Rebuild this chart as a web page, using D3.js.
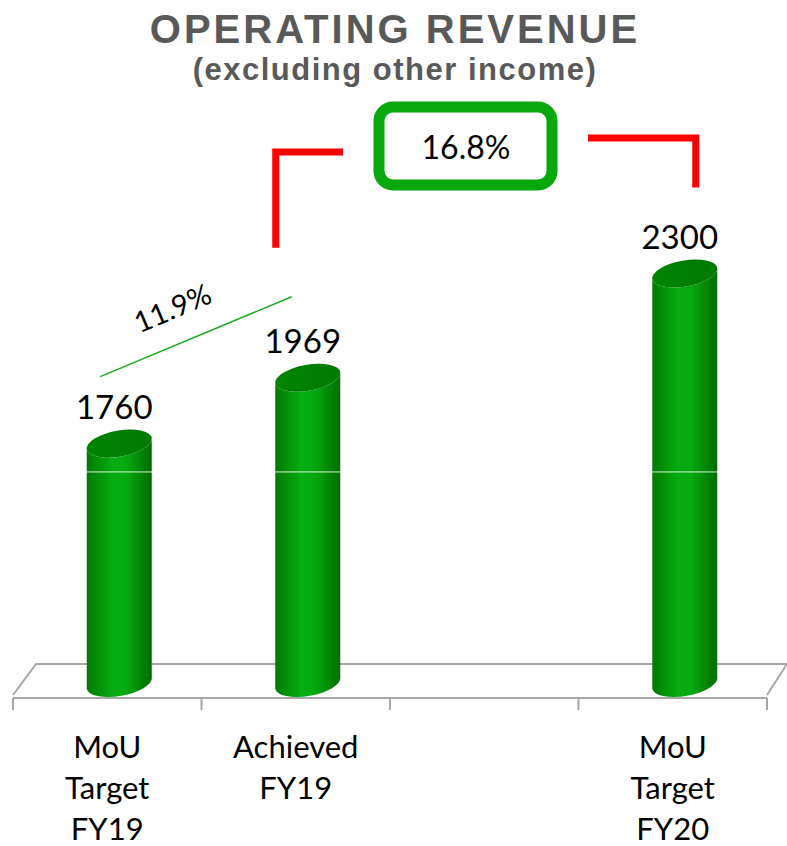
<!DOCTYPE html>
<html lang="en">
<head>
<meta charset="UTF-8">
<title>Operating Revenue</title>
<script src="https://d3js.org/d3.v7.min.js"></script>
<style>
  body { margin: 0; background: #fff; }
  .title { font-family: "Liberation Sans", Arial, sans-serif; font-weight: bold; fill: #595959; }
  .lbl { font-family: Lato, "Noto Sans", sans-serif; fill: #000; }
</style>
</head>
<body>
<svg width="787" height="846"></svg>
<script>
// chart data
const categories = ["MoU Target FY19", "Achieved FY19", "", "MoU Target FY20"];
const catLines = [["MoU", "Target", "FY19"], ["Achieved", "FY19"], [], ["MoU", "Target", "FY20"]];
const values = [1760, 1969, null, 2300];
const growthLabels = ["11.9%", "16.8%"];
const gridValues = [1670];

const svg = d3.select("svg");

// scales
const x = d3.scaleBand().domain(categories.map((c, i) => i)).range([13, 767]).padding(0);
const y = d3.scaleLinear().domain([1000, 2400]).range([683, 242]);

const depthX = 23, depthY = 34;
const floorY = 698;
const barShift = 12, rx = 33, ry = 13, tilt = -10;

// gradients
const defs = svg.append("defs");
const g1 = defs.append("linearGradient").attr("id", "body");
[["0%", "#007a00"], ["40%", "#05ad12"], ["60%", "#05aa10"], ["100%", "#006c00"]]
  .forEach(s => g1.append("stop").attr("offset", s[0]).attr("stop-color", s[1]));
const g2 = defs.append("linearGradient").attr("id", "top");
[["0%", "#008400"], ["100%", "#007a00"]]
  .forEach(s => g2.append("stop").attr("offset", s[0]).attr("stop-color", s[1]));

// floor
const x0 = x.range()[0], x1 = x.range()[1];
svg.append("path")
  .attr("d", `M${x0},${floorY - 3} L${x0 + depthX},${floorY - depthY} L${x1 + 20},${floorY - depthY} L${x1},${floorY - 3}`)
  .attr("fill", "#fff").attr("stroke", "#a6a6a6").attr("stroke-width", 2);
svg.append("line").attr("x1", x0).attr("x2", x1).attr("y1", floorY).attr("y2", floorY)
  .attr("stroke", "#a6a6a6").attr("stroke-width", 2);
const ticks = categories.map((c, i) => x(i)).concat([x1]);
svg.selectAll(".tk").data(ticks).join("line")
  .attr("x1", d => d).attr("x2", d => d).attr("y1", floorY).attr("y2", floorY + 12)
  .attr("stroke", "#a6a6a6").attr("stroke-width", 2);

// cylinders
const th = tilt * Math.PI / 180;
const ex = rx * Math.cos(th), ey = rx * Math.sin(th);
const bars = values.map((v, i) => ({ v, i })).filter(d => d.v != null);
const bg = svg.selectAll(".bar").data(bars).join("g")
  .attr("transform", d => `translate(${x(d.i) + x.bandwidth() / 2 + barShift},0)`);
bg.append("path")
  .attr("fill", "url(#body)")
  .attr("d", d => {
    const t = y(d.v), b = y(1000);
    return `M${-ex},${t - ey} L${-ex},${b - ey} A${rx},${ry} ${tilt} 0 0 ${ex},${b + ey}` +
      ` L${ex},${t + ey} A${rx},${ry} ${tilt} 0 1 ${-ex},${t - ey} Z`;
  });
bg.append("ellipse")
  .attr("cx", 0).attr("cy", d => y(d.v)).attr("rx", rx).attr("ry", ry)
  .attr("transform", d => `rotate(${tilt},0,${y(d.v)})`)
  .attr("fill", "url(#top)");

// faint gridline across bars
gridValues.forEach(g => {
  bg.filter(d => d.v > g).append("line")
    .attr("x1", -rx).attr("x2", rx).attr("y1", y(g)).attr("y2", y(g))
    .attr("stroke", "#d8f0d8").attr("stroke-width", 1);
});

// value labels
bg.append("text").attr("class", "lbl")
  .attr("x", -5).attr("y", d => y(d.v) - 25)
  .attr("text-anchor", "middle").attr("font-size", 33)
  .text(d => d.v);

// category labels
const cl = svg.selectAll(".cat").data(catLines).join("text").attr("class", "lbl")
  .attr("text-anchor", "middle").attr("font-size", 31);
cl.each(function (lines, i) {
  d3.select(this).selectAll("tspan").data(lines).join("tspan")
    .attr("x", x(i) + x.bandwidth() / 2)
    .attr("y", (d, k) => 758 + k * 41)
    .text(d => d);
});

// title
svg.append("text").attr("class", "title").attr("x", 395).attr("y", 43)
  .attr("text-anchor", "middle").attr("font-size", 40).attr("letter-spacing", 3)
  .text("OPERATING REVENUE");
svg.append("text").attr("class", "title").attr("x", 395).attr("y", 80)
  .attr("text-anchor", "middle").attr("font-size", 31).attr("letter-spacing", 1.5)
  .text("(excluding other income)");

// growth annotation 1: thin green line
const c0 = x(0) + x.bandwidth() / 2, c1 = x(1) + x.bandwidth() / 2;
svg.append("line")
  .attr("x1", c0 - 7).attr("y1", y(values[0]) - 67)
  .attr("x2", c1 - 4).attr("y2", y(values[1]) - 81)
  .attr("stroke", "#1aaa1a").attr("stroke-width", 1.5);
svg.append("text").attr("class", "lbl")
  .attr("transform", `translate(${(c0 + c1) / 2 - 25},${y(values[1]) - 60}) rotate(-23)`)
  .attr("text-anchor", "middle").attr("font-size", 29)
  .text(growthLabels[0]);

// growth annotation 2: red bracket + green box
const c3 = x(3) + x.bandwidth() / 2;
svg.append("path")
  .attr("d", `M${c1 - 20},${y(values[1]) - 130} V152 H343`)
  .attr("fill", "none").attr("stroke", "#ff0000").attr("stroke-width", 7);
svg.append("path")
  .attr("d", `M588,138 H${c3 + 23} V${y(values[3]) - 86}`)
  .attr("fill", "none").attr("stroke", "#ff0000").attr("stroke-width", 7);
svg.append("rect")
  .attr("x", 379).attr("y", 107).attr("width", 173).attr("height", 78).attr("rx", 14)
  .attr("fill", "#fff").attr("stroke", "#06a80c").attr("stroke-width", 11);
svg.append("text").attr("class", "lbl")
  .attr("x", 466).attr("y", 159).attr("text-anchor", "middle").attr("font-size", 32)
  .text(growthLabels[1]);
</script>
</body>
</html>
